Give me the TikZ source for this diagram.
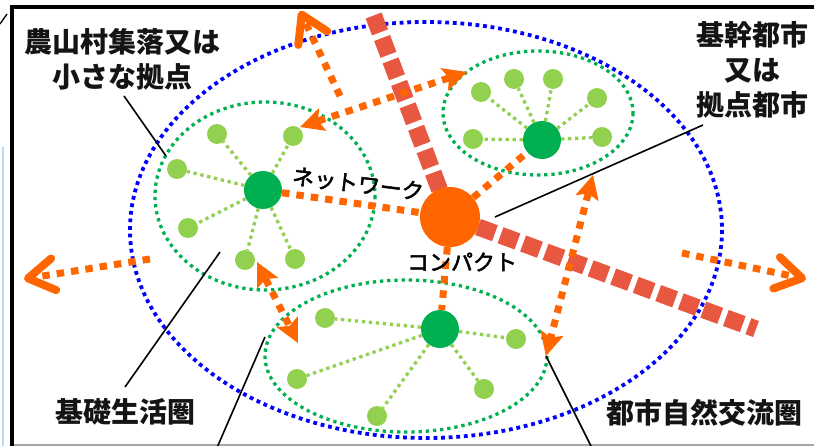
\documentclass[tikz,border=0pt]{standalone}
\usepackage{fontspec}
\newfontfamily\jp{Noto Sans CJK JP}
\newfontfamily\jpm[FakeBold=2.2]{Noto Sans CJK JP}
\usetikzlibrary{arrows.meta}
\definecolor{cblue}{HTML}{0000FF}
\definecolor{cgreen}{HTML}{00B050}
\definecolor{clgreen}{HTML}{92D050}
\definecolor{corange}{HTML}{FF6600}
\definecolor{cred}{HTML}{E8573F}
\definecolor{cpale}{HTML}{BDD7EE}
\begin{document}
\begin{tikzpicture}[x=1pt,y=-1pt,
  bluedot/.style={draw=cblue, line width=3.8pt, dash pattern=on 3.8pt off 3.8pt},
  greendot/.style={draw=cgreen, line width=3.3pt, dash pattern=on 3.3pt off 3.9pt},
  spoke/.style={draw=clgreen, line width=3.3pt, dash pattern=on 3.3pt off 3.7pt},
  odot/.style={draw=corange, line width=7pt, dash pattern=on 7.5pt off 7pt},
  reddash/.style={draw=cred, line width=17pt, dash pattern=on 18pt off 6pt},
  hub/.style={circle, fill=cgreen, minimum size=38pt, inner sep=0pt},
  sat/.style={circle, fill=clgreen, minimum size=20pt, inner sep=0pt},
  dbl/.style={odot, {Stealth[length=24pt,width=24pt,inset=5pt,line width=0pt]}-{Stealth[length=24pt,width=24pt,inset=5pt,line width=0pt]}},
  outarr/.style={odot, -{Straight Barb[length=26pt,width=32pt,line width=8pt,round]}},
  lbl/.style={font=\jp\bfseries\fontsize{28}{35}\selectfont, align=center, inner sep=0pt, text=black!92},
  jtxt/.style={font=\jpm\fontsize{22}{24}\selectfont, inner sep=0pt},
  leader/.style={draw=black, line width=1.6pt}
]
\useasboundingbox (0,0) rectangle (814,446);
\clip (0,0) rectangle (814,446);
\fill[white] (0,0) rectangle (814,446);

% frame
\draw[cpale, line width=1.5pt] (3,147) -- (3,446);
\draw[black, line width=1.3pt] (0,24) -- (7,14);
\draw[gray!70, line width=1.2pt] (12,445) -- (814,445);
\draw[black, line width=4pt] (10,7) -- (814,7);
\draw[black, line width=4pt] (12,5) -- (12,446);

% zones
\draw[bluedot] (426,230) ellipse [x radius=296, y radius=208];
\draw[greendot] (265,196) ellipse [x radius=110, y radius=94];
\draw[greendot] (538,113) ellipse [x radius=95, y radius=62];
\draw[greendot] (406,356) ellipse [x radius=141, y radius=76];

% hubs and satellites
\node[hub] (hL) at (263,190) {};
\node[hub] (hT) at (542,140) {};
\node[hub] (hB) at (440,329) {};
\node[sat] (L1) at (217,134) {};
\node[sat] (L2) at (293,136) {};
\node[sat] (L3) at (177,169) {};
\node[sat] (L4) at (188,228) {};
\node[sat] (L5) at (245,260) {};
\node[sat] (L6) at (295,259) {};
\node[sat] (T1) at (481,92) {};
\node[sat] (T2) at (514,79) {};
\node[sat] (T3) at (553,79) {};
\node[sat] (T4) at (597,98) {};
\node[sat] (T5) at (473,139) {};
\node[sat] (T6) at (602,137) {};
\node[sat] (B1) at (325,318) {};
\node[sat] (B2) at (297,379) {};
\node[sat] (B3) at (377,416) {};
\node[sat] (B4) at (516,339) {};
\node[sat] (B5) at (484,389) {};
\foreach \s in {L1,L2,L3,L4,L5,L6} \draw[spoke] (hL) -- (\s);
\foreach \s in {T1,T2,T3,T4,T5,T6} \draw[spoke] (hT) -- (\s);
\foreach \s in {B1,B2,B3,B4,B5} \draw[spoke] (hB) -- (\s);

% compact centre and trunk lines
\coordinate (cc) at (450,217);
\coordinate (rTop) at (373,14);
\coordinate (rEnd) at (756,329);
\draw[reddash] (cc) ++(-10.5,-27.5) -- (rTop);
\draw[reddash] (cc) ++(28,10) -- (rEnd);
\node[circle, fill=corange, minimum size=60pt, inner sep=0pt] (cmp) at (cc) {};

% network links
\draw[odot] (hL) -- (cmp);
\draw[odot] (cmp) -- (hT);
\draw[odot] (cmp) -- (hB);

% exchange arrows
\coordinate (a1) at (300,127);
\coordinate (a2) at (467,72);
\coordinate (a3) at (257,262);
\coordinate (a4) at (298,343);
\coordinate (a5) at (593,175);
\coordinate (a6) at (546,356);
\draw[dbl] (a1) -- (a2);
\draw[dbl] (a3) -- (a4);
\draw[dbl] (a5) -- (a6);

% outward arrows
\coordinate (o1s) at (150,259);
\coordinate (o1e) at (24,279);
\coordinate (o2s) at (682,253);
\coordinate (o2e) at (806,279);
\coordinate (o3s) at (340,96);
\coordinate (o3e) at (300,11);
\draw[outarr] (o1s) -- (o1e);
\draw[outarr] (o2s) -- (o2e);
\draw[outarr] (o3s) -- (o3e);

% texts
\node[jtxt, rotate=-7] (net) at (358,184) {ネットワーク};
\node[jtxt] (cpt) at (462,262) {コンパクト};
\node[lbl] (lab1) at (122,59) {農山村集落又は\\小さな拠点};
\node[lbl] (lab2) at (752,70) {基幹都市\\又は\\拠点都市};
\node[lbl] (lab3) at (125,412) {基礎生活圏};
\node[lbl, anchor=west] (lab4) at (606,413) {都市自然交流圏};

% leader lines
\coordinate (k1) at (124,96);
\coordinate (k1e) at (166,156);
\coordinate (k2) at (703,125);
\coordinate (k2e) at (495,217);
\coordinate (k3) at (125,387);
\coordinate (k3e) at (220,252);
\coordinate (k4) at (265,337);
\coordinate (k4e) at (216,450);
\coordinate (k5e) at (593,450);
\draw[leader] (k1) -- (k1e);
\draw[leader] (k2) -- (k2e);
\draw[leader] (k3) -- (k3e);
\draw[leader] (k4) -- (k4e);
\draw[leader] (a6) -- (k5e);
\end{tikzpicture}
\end{document}
